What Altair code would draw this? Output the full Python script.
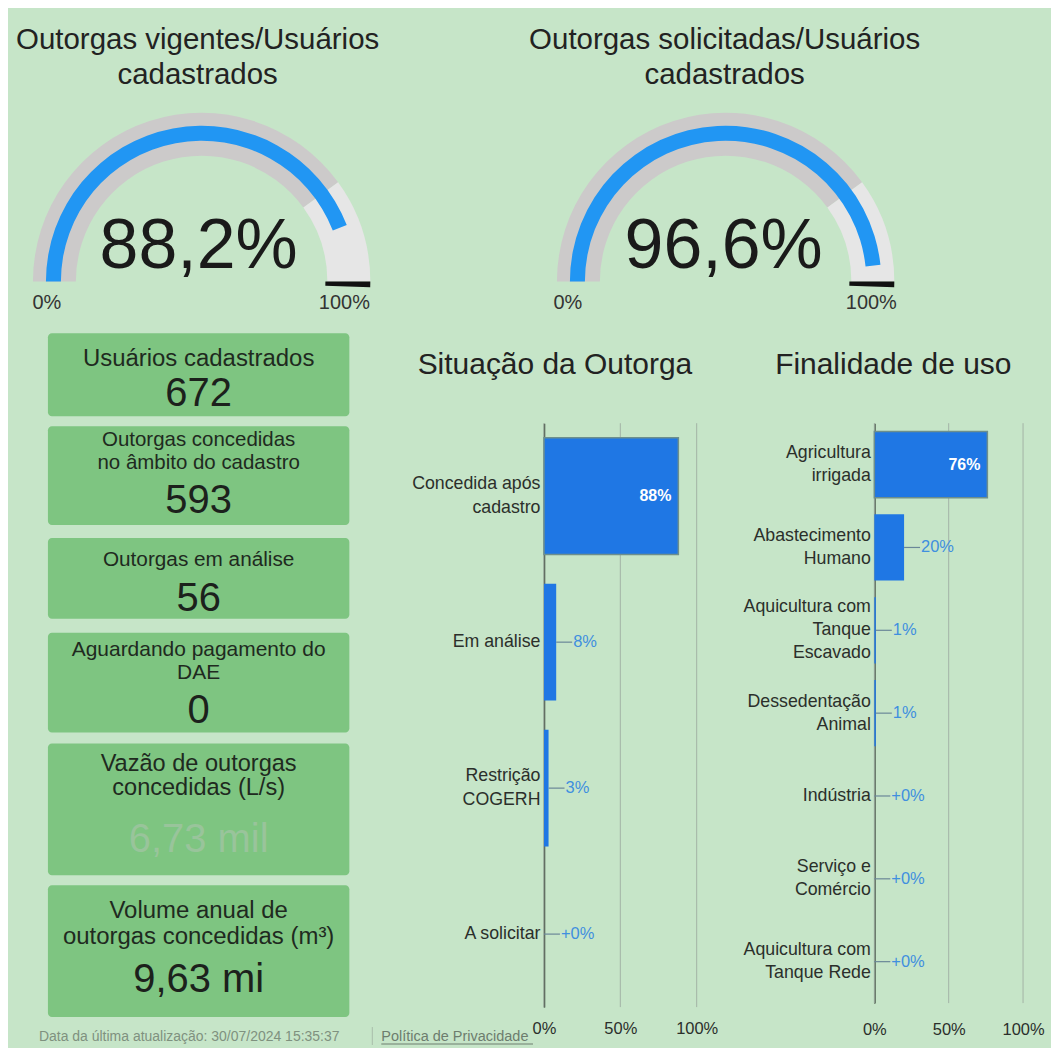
import math
import altair as alt
import pandas as pd

# ---------------- data ----------------
GAUGE_TITLES = [["Outorgas vigentes/Usuários", "cadastrados"],
                ["Outorgas solicitadas/Usuários", "cadastrados"]]
GAUGE_VALUES = [88.2, 96.6]
GAUGE_MIN = 0
GAUGE_MAX = 100
GAUGE_TARGET = 100
GAUGE_SHADE_FROM = 80
GAUGE_MIN_LABEL = "0%"
GAUGE_MAX_LABEL = "100%"

CARD_TITLES = [["Usuários cadastrados"],
               ["Outorgas concedidas", "no âmbito do cadastro"],
               ["Outorgas em análise"],
               ["Aguardando pagamento do", "DAE"],
               ["Vazão de outorgas", "concedidas (L/s)"],
               ["Volume anual de", "outorgas concedidas (m³)"]]
CARD_VALUES = ["672", "593", "56", "0", "6,73 mil", "9,63 mi"]

SIT_TITLE = "Situação da Outorga"
SIT_CATS = ["Concedida após|cadastro", "Em análise", "Restrição|COGERH", "A solicitar"]
SIT_VALUES = [88, 8, 3, 0]
SIT_LABELS = ["88%", "8%", "3%", "+0%"]

FIN_TITLE = "Finalidade de uso"
FIN_CATS = ["Agricultura|irrigada", "Abastecimento|Humano",
            "Aquicultura com|Tanque|Escavado", "Dessedentação|Animal",
            "Indústria", "Serviço e|Comércio", "Aquicultura com|Tanque Rede"]
FIN_VALUES = [76, 20, 1, 1, 0, 0, 0]
FIN_LABELS = ["76%", "20%", "1%", "1%", "+0%", "+0%", "+0%"]

AXIS_TICKS = [0, 50, 100]

FOOTER_DATE = "Data da última atualização: 30/07/2024 15:35:37"
FOOTER_LINK = "Política de Privacidade"

# ---------------- style / layout ----------------
FONT = "Liberation Sans"
BG = "#c6e5c8"
CARD_FILL = "#7ec581"
GAUGE_BLUE = "#2196f3"
TRACK_DARK = "#cccaca"
TRACK_LIGHT = "#e6e6e6"
BAR_BLUE = "#1f77e4"
INK = "#1c211c"
LABEL_BLUE = "#3f8fdf"

W_TOTAL, H_TOTAL = 1043, 1038
SPACING = 178
P1_W = 536 - SPACING
P2_W = 153
P3_W = 149


def one():
    return pd.DataFrame({"k": [0]})


def txt(x, y, text, size, color=INK, align="center", weight="normal", line_height=None):
    kw = dict(text=text, fontSize=size, color=color, align=align,
              baseline="alphabetic", font=FONT, fontWeight=weight)
    if line_height:
        kw["lineHeight"] = line_height
    return alt.Chart(one()).mark_text(**kw).encode(x=alt.value(x), y=alt.value(y))


def gauge(idx, cx, cy, tx, nx, minx, maxx):
    theta_sc = alt.Scale(domain=[GAUGE_MIN, GAUGE_MAX], range=[-math.pi / 2, math.pi / 2])
    pos = dict(x=alt.value(cx), y=alt.value(cy))
    th = alt.Theta("a:Q", scale=theta_sc, stack=None)
    th2 = alt.Theta2("b")
    track = pd.DataFrame({"a": [GAUGE_MIN, GAUGE_SHADE_FROM],
                          "b": [GAUGE_SHADE_FROM, GAUGE_MAX],
                          "part": ["base", "shade"]})
    value = pd.DataFrame({"a": [GAUGE_MIN], "b": [GAUGE_VALUES[idx]]})
    target = pd.DataFrame({"a": [GAUGE_TARGET], "b": [GAUGE_TARGET]})
    num_label = f"{GAUGE_VALUES[idx]:.1f}".replace(".", ",") + "%"
    return [
        alt.Chart(track).mark_arc(innerRadius=126, outerRadius=169).encode(
            theta=th, theta2=th2,
            color=alt.Color("part:N", scale=alt.Scale(domain=["base", "shade"],
                                                      range=[TRACK_DARK, TRACK_LIGHT]),
                            legend=None),
            **pos),
        alt.Chart(value).mark_arc(innerRadius=141, outerRadius=156, color=GAUGE_BLUE).encode(
            theta=th, theta2=th2, **pos),
        alt.Chart(target).mark_arc(innerRadius=124, outerRadius=169, color="#111111",
                                   theta2Offset=0.034).encode(theta=th, theta2=th2, **pos),
        txt(tx, 39, GAUGE_TITLES[idx], 29.5, color="#222222", line_height=35),
        txt(nx, 259, num_label, 70, color="#1a1a1a"),
        txt(minx, 300, GAUGE_MIN_LABEL, 20, color="#333333"),
        txt(maxx, 300, GAUGE_MAX_LABEL, 20, color="#333333"),
    ]


# cards layout (local coordinates of panel 1)
CARD_X0, CARD_X1, CARD_CX = 39, 341, 190
CARD_BOX = [(324, 407), (417, 516), (529, 610), (624, 724), (735, 867), (877, 1009)]
CARD_TITLE_Y = [357, 437, 557, 647, 762, 910]
CARD_TITLE_SIZE = [24, 20.5, 20.8, 21, 23.6, 24]
CARD_TITLE_LH = [24, 23, 23, 23, 25, 26]
CARD_VALUE_Y = [397, 504, 602, 714, 844, 984]
CARD_VALUE_COLOR = [INK, INK, INK, INK, "#99c49b", INK]


def cards():
    layers = []
    for i in range(len(CARD_VALUES)):
        top, bot = CARD_BOX[i]
        layers.append(alt.Chart(one()).mark_rect(color=CARD_FILL, cornerRadius=4).encode(
            x=alt.value(CARD_X0), x2=alt.value(CARD_X1), y=alt.value(top), y2=alt.value(bot)))
        layers.append(txt(CARD_CX, CARD_TITLE_Y[i], CARD_TITLES[i], CARD_TITLE_SIZE[i],
                          color="#1f2a1f", line_height=CARD_TITLE_LH[i]))
        layers.append(txt(CARD_CX, CARD_VALUE_Y[i], CARD_VALUES[i], 40, color=CARD_VALUE_COLOR[i]))
    return layers


def footer():
    return [
        txt(30, 1033, FOOTER_DATE, 14, color="#7f917f", align="left"),
        alt.Chart(one()).mark_rule(color="#a9bdaa").encode(
            x=alt.value(364), y=alt.value(1019), y2=alt.value(1037)),
        txt(373, 1033, FOOTER_LINK, 14.5, color="#6d7d6e", align="left"),
        alt.Chart(one()).mark_rule(color="#6d7d6e").encode(
            x=alt.value(373), x2=alt.value(525), y=alt.value(1036)),
    ]


def bar_layers(cats, vals, labels, y_range, line_h, label_pad):
    df = pd.DataFrame({"cat": cats, "v": vals, "label": labels})
    ysc = alt.Scale(domain=cats, range=y_range, paddingInner=0.2, paddingOuter=0.1)
    xsc = alt.Scale(domain=[0, 100])
    nlines = "length(split(datum.label, '|'))"
    yax = alt.Axis(title=None, labelExpr="split(datum.label, '|')", labelFont=FONT,
                   labelFontSize=17.8, labelColor="#2b2f2b", labelLineHeight=line_h,
                   labelPadding=4, ticks=False, tickSize=0, domainColor="#2a332b",
                   domainWidth=1.5, labelLimit=220, grid=False,
                   labelOffset={"condition": [
                       {"test": nlines + " == 3", "value": -line_h},
                       {"test": nlines + " == 2", "value": -line_h / 2}],
                       "value": 0})
    xax = alt.Axis(title=None, values=AXIS_TICKS, labelExpr="datum.value + '%'",
                   labelFont=FONT, labelFontSize=16.5, labelColor="#2b2f2b",
                   labelPadding=label_pad, labelFlush=False, ticks=False, tickSize=0,
                   domain=False, grid=False,
                   offset=-(H_TOTAL - y_range[1]))
    X = alt.X("v:Q", scale=xsc, axis=xax)
    Y = alt.Y("cat:N", scale=ysc, axis=yax)
    grid = alt.Chart(pd.DataFrame({"v": AXIS_TICKS})).mark_rule(
        color="#a3b3a6", strokeWidth=1).encode(
        x=X, y=alt.value(y_range[0]), y2=alt.value(y_range[1]))
    base = alt.Chart(df)
    bars = base.mark_bar(color=BAR_BLUE).encode(
        x=X, y=Y,
        stroke=alt.condition(alt.datum.v >= 50, alt.value("#6d8f8c"), alt.value("transparent")),
        strokeWidth=alt.value(1.5))
    inside = base.transform_filter(alt.datum.v >= 50).mark_text(
        align="right", baseline="middle", dx=-7, color="white", fontWeight="bold",
        fontSize=16, font=FONT).encode(x=X, y=Y, text="label:N")
    small = base.transform_filter(alt.datum.v < 50)
    leader = small.mark_rule(color="#6a8798", strokeWidth=1.2, x2Offset=16).encode(
        x=X, x2=alt.X2("v"), y=Y)
    outside = small.mark_text(align="left", baseline="middle", dx=17, color=LABEL_BLUE,
                              fontSize=16.5, font=FONT).encode(x=X, y=Y, text="label:N")
    return [grid, bars, leader, inside, outside]


bg = alt.Chart(one()).mark_rect(color=BG).encode(
    x=alt.value(0), x2=alt.value(W_TOTAL), y=alt.value(0), y2=alt.value(H_TOTAL))

p1 = alt.layer(bg, *gauge(0, 193, 272, 189, 190, 38, 336), *cards(), *footer()).properties(
    width=P1_W, height=H_TOTAL)

p2 = alt.layer(*gauge(1, 182, 272, 181, 180, 24, 328),
               txt(11, 365, SIT_TITLE, 30, color="#222222"),
               *bar_layers(SIT_CATS, SIT_VALUES, SIT_LABELS, [414, 999], 24, 13)).properties(
    width=P2_W, height=H_TOTAL)

p3 = alt.layer(txt(19, 365, FIN_TITLE, 30, color="#222222"),
               *bar_layers(FIN_CATS, FIN_VALUES, FIN_LABELS, [414, 995], 23, 18)).properties(
    width=P3_W, height=H_TOTAL)

chart = alt.hconcat(p1, p2, p3, spacing=SPACING, bounds="flush").properties(
    background=BG, padding=0).configure_view(stroke="transparent")

chart.save("out.html", embed_options={"renderer": "svg", "actions": False})
